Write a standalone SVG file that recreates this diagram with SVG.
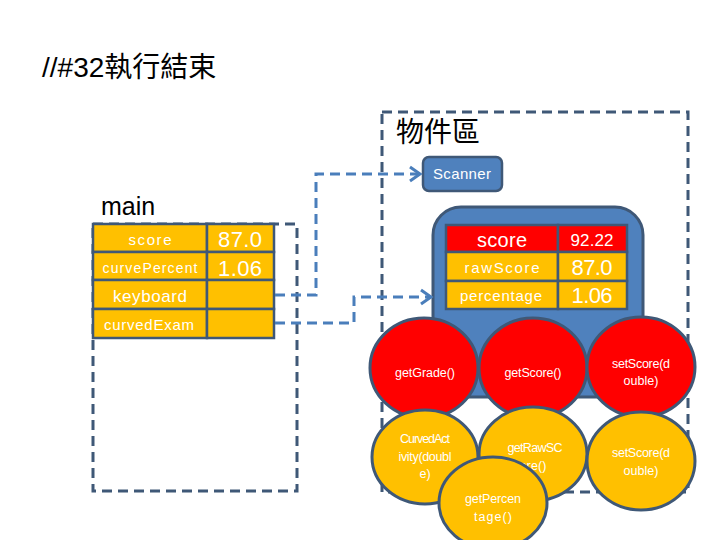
<svg xmlns="http://www.w3.org/2000/svg" width="720" height="540" viewBox="0 0 720 540">
<style>
.t{font-family:"Liberation Sans","Noto Sans CJK TC",sans-serif;}
.cjk{font-family:"Liberation Sans","Noto Sans CJK TC",sans-serif;fill:#000;}
.w{font-family:"Liberation Sans",sans-serif;fill:#fff;text-anchor:middle;}
.area{fill:none;stroke:#3f5877;stroke-width:3;stroke-dasharray:10 6;}
.cell{stroke:#3f5877;stroke-width:2.5;}
.or{fill:#ffc000;}
.rd{fill:#ff0000;}
.circ{stroke:#3f5877;stroke-width:3;}
.conn{fill:none;stroke:#4a7ebb;stroke-width:3;stroke-dasharray:10 6;}
.ah{fill:none;stroke:#4a7ebb;stroke-width:3;}
</style>
<rect width="720" height="540" fill="#fff"/>
<text class="cjk" x="42" y="77" font-size="28">//#32執行結束</text>

<g id="main">
  <rect class="area" x="93" y="224" width="204" height="267"/>
  <text class="t" x="101" y="215" font-size="25" fill="#000">main</text>
  <rect class="cell or" x="93" y="224" width="114" height="28"/>
  <rect class="cell or" x="207" y="224" width="67" height="28"/>
  <rect class="cell or" x="93" y="252" width="114" height="28"/>
  <rect class="cell or" x="207" y="252" width="67" height="28"/>
  <rect class="cell or" x="93" y="280" width="114" height="29"/>
  <rect class="cell or" x="207" y="280" width="67" height="29"/>
  <rect class="cell or" x="93" y="309" width="114" height="29"/>
  <rect class="cell or" x="207" y="309" width="67" height="29"/>
  <text class="w" x="150" y="245" font-size="15" textLength="43">score</text>
  <text class="w" x="150" y="273" font-size="14" textLength="95">curvePercent</text>
  <text class="w" x="150" y="302" font-size="17" textLength="74">keyboard</text>
  <text class="w" x="149" y="330" font-size="15" textLength="90">curvedExam</text>
  <text class="w" x="240" y="247" font-size="22" textLength="44">87.0</text>
  <text class="w" x="240" y="276" font-size="22" textLength="44">1.06</text>
</g>

<g id="objectArea">
  <rect class="area" x="382" y="112" width="306" height="380"/>
  <text class="cjk" x="396" y="142" font-size="28">物件區</text>
</g>

<g id="scanner">
  <rect x="423" y="157" width="79" height="34" rx="6" fill="#4f81bd" stroke="#3f5877" stroke-width="2.5"/>
  <text class="w" x="462" y="179" font-size="15" textLength="58">Scanner</text>
</g>

<g id="object">
  <rect x="433" y="207" width="210" height="190" rx="28" fill="#4f81bd" stroke="#3f5877" stroke-width="3"/>
  <rect class="cell rd" x="446" y="225" width="112" height="27"/>
  <rect class="cell rd" x="558" y="225" width="69" height="27"/>
  <rect class="cell or" x="446" y="252" width="112" height="29"/>
  <rect class="cell or" x="558" y="252" width="69" height="29"/>
  <rect class="cell or" x="446" y="281" width="112" height="28"/>
  <rect class="cell or" x="558" y="281" width="69" height="28"/>
  <text class="w" x="502" y="247" font-size="20" textLength="50">score</text>
  <text class="w" x="592" y="246" font-size="17" textLength="43">92.22</text>
  <text class="w" x="502" y="273" font-size="15" textLength="75">rawScore</text>
  <text class="w" x="592" y="275" font-size="22" textLength="41">87.0</text>
  <text class="w" x="501" y="301" font-size="15" textLength="82">percentage</text>
  <text class="w" x="592" y="303" font-size="22" textLength="41">1.06</text>
</g>

<g id="getGrade">
  <ellipse class="circ rd" cx="424" cy="368" rx="54" ry="50"/>
  <text class="w" x="425" y="377" font-size="12.5" textLength="60">getGrade()</text>
</g>
<g id="getScore">
  <ellipse class="circ rd" cx="533" cy="368" rx="54" ry="50"/>
  <text class="w" x="533" y="377" font-size="12.5" textLength="57">getScore()</text>
</g>
<g id="setScoreRed">
  <ellipse class="circ rd" cx="641" cy="367" rx="54" ry="50"/>
  <text class="w" x="641" y="368" font-size="12.5" textLength="58">setScore(d</text>
  <text class="w" x="641" y="385" font-size="12.5" textLength="35">ouble)</text>
</g>

<g id="curvedActivity">
  <ellipse class="circ or" cx="425" cy="457" rx="53" ry="47"/>
  <text class="w" x="425" y="443" font-size="12.5" textLength="50">CurvedAct</text>
  <text class="w" x="425" y="461" font-size="12.5" textLength="53">ivity(doubl</text>
  <text class="w" x="425" y="478" font-size="12.5">e)</text>
</g>
<g id="getRawScore">
  <ellipse class="circ or" cx="533" cy="454" rx="54" ry="47"/>
  <text class="w" x="535" y="452" font-size="12.5" textLength="55">getRawSC</text>
  <text class="w" x="533" y="470" font-size="12.5" textLength="27">ore()</text>
</g>
<g id="setScoreOrange">
  <ellipse class="circ or" cx="641" cy="461" rx="54" ry="49"/>
  <text class="w" x="641" y="457" font-size="12.5" textLength="58">setScore(d</text>
  <text class="w" x="641" y="475" font-size="12.5" textLength="35">ouble)</text>
</g>
<g id="getPercentage">
  <ellipse class="circ or" cx="493" cy="503" rx="54" ry="46"/>
  <text class="w" x="493" y="503" font-size="12.5" textLength="56">getPercen</text>
  <text class="w" x="493" y="521" font-size="12.5" textLength="38">tage()</text>
</g>

<g id="connectors">
  <polyline class="conn" points="275,295 316,295 316,174 418,174"/>
  <polyline class="ah" points="410,167 420,174 410,181"/>
  <polyline class="conn" points="275,323 354,323 354,297 429,297"/>
  <polyline class="ah" points="421,290 431,297 421,304"/>
</g>
</svg>
